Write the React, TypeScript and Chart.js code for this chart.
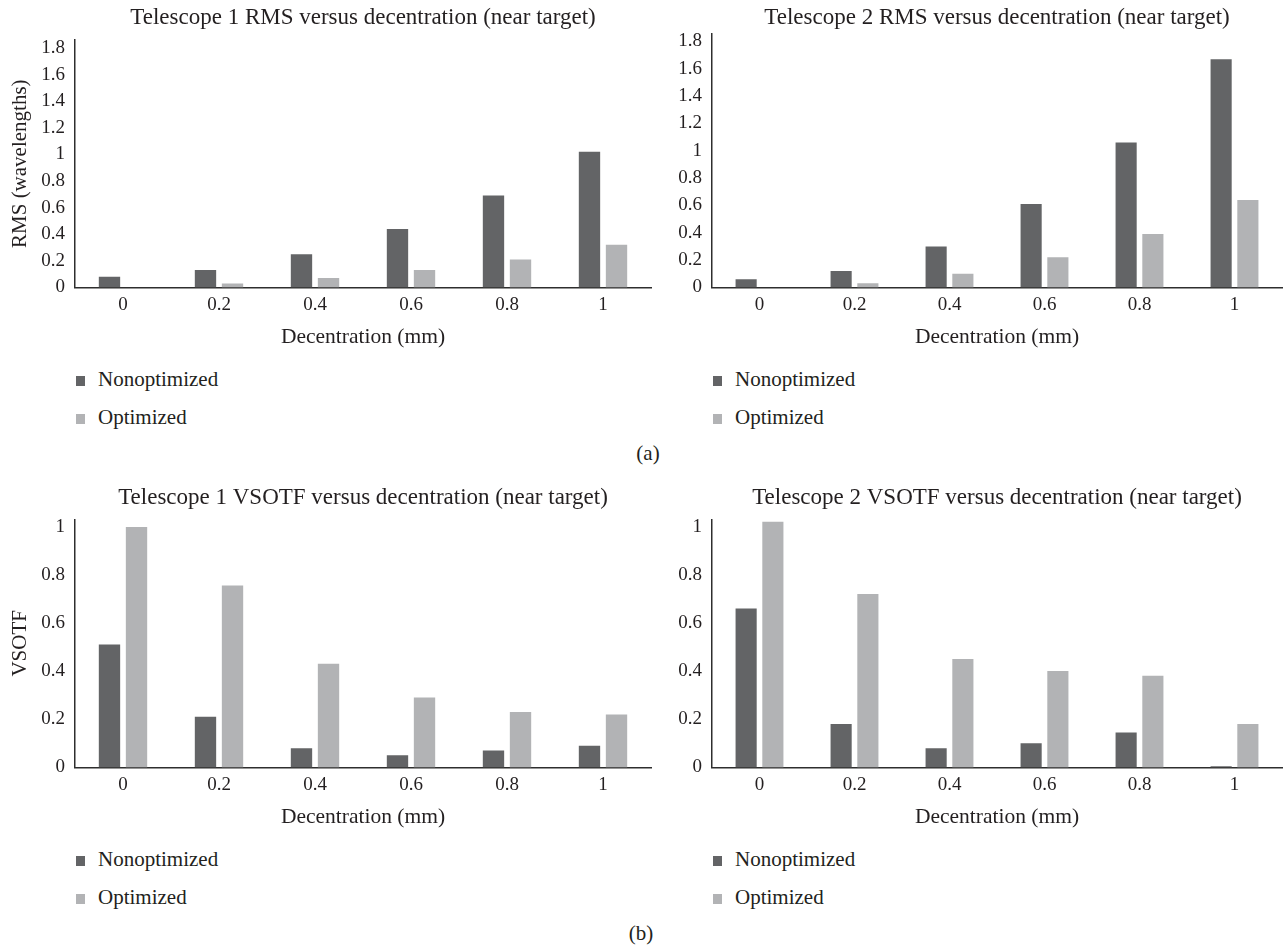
import React, { useEffect, useRef } from 'react';
import { Chart, registerables } from 'chart.js';

Chart.register(...registerables);

// ---------- data ----------
const categories = ['0', '0.2', '0.4', '0.6', '0.8', '1'];
const seriesNames = ['Nonoptimized', 'Optimized'];

const t1RmsNonopt = [0.08, 0.13, 0.25, 0.44, 0.69, 1.02];
const t1RmsOpt = [0, 0.03, 0.07, 0.13, 0.21, 0.32];
const t2RmsNonopt = [0.06, 0.12, 0.3, 0.61, 1.06, 1.67];
const t2RmsOpt = [0, 0.03, 0.1, 0.22, 0.39, 0.64];

const t1VsotfNonopt = [0.51, 0.21, 0.08, 0.05, 0.07, 0.09];
const t1VsotfOpt = [0.998, 0.755, 0.43, 0.29, 0.23, 0.22];
const t2VsotfNonopt = [0.66, 0.18, 0.08, 0.1, 0.145, 0.005];
const t2VsotfOpt = [1.02, 0.72, 0.45, 0.4, 0.38, 0.18];

const rmsTicks = [0, 0.2, 0.4, 0.6, 0.8, 1, 1.2, 1.4, 1.6, 1.8];
const rmsTickLabels = ['0', '0.2', '0.4', '0.6', '0.8', '1', '1.2', '1.4', '1.6', '1.8'];
const vsotfTicks = [0, 0.2, 0.4, 0.6, 0.8, 1];
const vsotfTickLabels = ['0', '0.2', '0.4', '0.6', '0.8', '1'];

const xTitle = 'Decentration (mm)';

// ---------- style ----------
const DARK = '#636466';
const LIGHT = '#b2b3b5';
const FONT = "'Liberation Serif', 'Times New Roman', serif";
const TEXT = '#231f20';
const AXIS = '#2e2e2e';

type PanelProps = {
  left: number;
  top: number;
  width: number;
  height: number;
  title: string;
  yTitle?: string;
  nonopt: number[];
  opt: number[];
  ticks: number[];
  tickLabels: string[];
  yMax: number;
  padLeft: number;
  padRight: number;
  yAxisWidth: number;
  titlePadBottom: number;
};

function Panel(p: PanelProps) {
  const ref = useRef<HTMLCanvasElement | null>(null);

  useEffect(() => {
    if (!ref.current) return;
    const chart = new Chart(ref.current, {
      type: 'bar',
      data: {
        labels: categories,
        datasets: [
          { label: seriesNames[0], data: p.nonopt, backgroundColor: DARK, borderWidth: 0 },
          { label: seriesNames[1], data: p.opt, backgroundColor: LIGHT, borderWidth: 0 },
        ],
      },
      options: {
        responsive: false,
        animation: false,
        devicePixelRatio: 1,
        layout: { padding: { left: p.padLeft, right: p.padRight, top: 0, bottom: 0 } },
        datasets: { bar: { categoryPercentage: 0.563, barPercentage: 0.79 } },
        plugins: {
          legend: { display: false },
          tooltip: { enabled: false },
          title: {
            display: true,
            text: p.title,
            fullSize: false,
            color: TEXT,
            font: { family: FONT, size: 23, weight: 'normal', lineHeight: 1.2 },
            padding: { top: 4, bottom: p.titlePadBottom },
          },
        },
        scales: {
          x: {
            grid: { display: false, drawTicks: false },
            border: { display: true, color: AXIS, width: 1.5 },
            ticks: {
              color: TEXT,
              font: { family: FONT, size: 19 },
              padding: 6,
              maxRotation: 0,
              autoSkip: false,
            },
            title: {
              display: true,
              text: xTitle,
              color: TEXT,
              font: { family: FONT, size: 21.5, lineHeight: 1.2 },
              padding: { top: 2, bottom: 4 },
            },
          },
          y: {
            min: 0,
            max: p.yMax,
            grid: { display: false, drawTicks: false },
            border: { display: true, color: AXIS, width: 1.5 },
            ticks: {
              color: TEXT,
              font: { family: FONT, size: 19 },
              padding: 10,
              callback: (v: any) => {
                const i = p.ticks.findIndex((t) => Math.abs(t - Number(v)) < 1e-9);
                return i >= 0 ? p.tickLabels[i] : '';
              },
            },
            afterBuildTicks: (s: any) => {
              s.ticks = p.ticks.map((v) => ({ value: v }));
            },
            afterFit: (s: any) => {
              s.width = p.yAxisWidth;
            },
            title: p.yTitle
              ? {
                  display: true,
                  text: p.yTitle,
                  color: TEXT,
                  font: { family: FONT, size: 21, lineHeight: 1.2 },
                  padding: 0,
                }
              : { display: false },
          },
        },
      } as any,
    });
    return () => chart.destroy();
  }, []);

  const axisX = p.left + p.padLeft + p.yAxisWidth;
  const legendRow = (name: string, color: string, y: number) => (
    <div key={name} style={{ position: 'absolute', left: axisX + 0.5, top: p.top + y, height: 24 }}>
      <div
        style={{
          position: 'absolute',
          left: 0,
          top: 9,
          width: 9.5,
          height: 9.5,
          background: color,
        }}
      />
      <div
        style={{
          position: 'absolute',
          left: 22.5,
          top: 0,
          whiteSpace: 'nowrap',
          fontFamily: FONT,
          fontSize: 21,
          lineHeight: '24px',
          color: TEXT,
        }}
      >
        {name}
      </div>
    </div>
  );

  return (
    <>
      <canvas
        ref={ref}
        width={p.width}
        height={p.height}
        style={{ position: 'absolute', left: p.left, top: p.top, width: p.width, height: p.height }}
      />
      {legendRow(seriesNames[0], DARK, 367)}
      {legendRow(seriesNames[1], LIGHT, 405)}
    </>
  );
}

export default function App() {
  const panelLabel = (text: string, cx: number, cy: number) => (
    <div
      style={{
        position: 'absolute',
        left: cx - 20,
        width: 40,
        top: cy - 12,
        textAlign: 'center',
        fontFamily: FONT,
        fontSize: 21,
        lineHeight: '24px',
        color: TEXT,
      }}
    >
      {text}
    </div>
  );

  return (
    <div
      style={{
        position: 'absolute',
        left: 0,
        top: 0,
        width: 1284,
        height: 946,
        background: '#ffffff',
        overflow: 'hidden',
      }}
    >
      <Panel
        left={0}
        top={0}
        width={654}
        height={354}
        title="Telescope 1 RMS versus decentration (near target)"
        yTitle="RMS (wavelengths)"
        nonopt={t1RmsNonopt}
        opt={t1RmsOpt}
        ticks={rmsTicks}
        tickLabels={rmsTickLabels}
        yMax={1.86}
        padLeft={8}
        padRight={3}
        yAxisWidth={67}
        titlePadBottom={8.4}
      />
      <Panel
        left={640}
        top={0}
        width={644}
        height={354}
        title="Telescope 2 RMS versus decentration (near target)"
        nonopt={t2RmsNonopt}
        opt={t2RmsOpt}
        ticks={rmsTicks}
        tickLabels={rmsTickLabels}
        yMax={1.86}
        padLeft={0}
        padRight={2}
        yAxisWidth={72}
        titlePadBottom={1.7}
      />
      <Panel
        left={0}
        top={480}
        width={654}
        height={354}
        title="Telescope 1 VSOTF versus decentration (near target)"
        yTitle="VSOTF"
        nonopt={t1VsotfNonopt}
        opt={t1VsotfOpt}
        ticks={vsotfTicks}
        tickLabels={vsotfTickLabels}
        yMax={1.03}
        padLeft={8}
        padRight={3}
        yAxisWidth={67}
        titlePadBottom={7.7}
      />
      <Panel
        left={640}
        top={480}
        width={644}
        height={354}
        title="Telescope 2 VSOTF versus decentration (near target)"
        nonopt={t2VsotfNonopt}
        opt={t2VsotfOpt}
        ticks={vsotfTicks}
        tickLabels={vsotfTickLabels}
        yMax={1.03}
        padLeft={0}
        padRight={2}
        yAxisWidth={72}
        titlePadBottom={7.7}
      />
      {panelLabel('(a)', 648, 453)}
      {panelLabel('(b)', 641, 933)}
    </div>
  );
}
